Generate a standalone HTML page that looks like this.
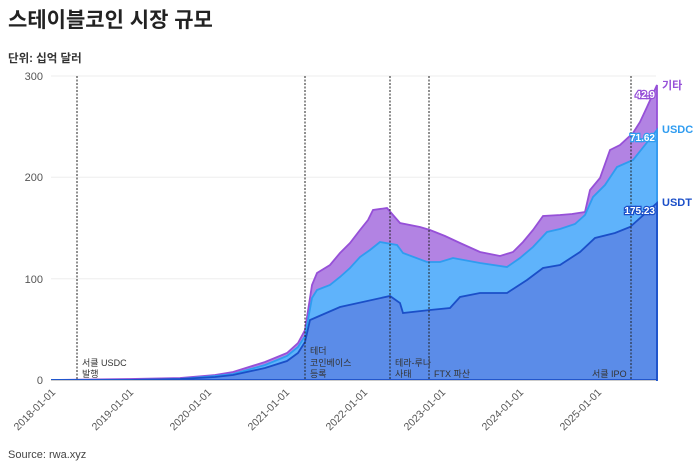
<!DOCTYPE html>
<html><head><meta charset="utf-8"><style>
body{margin:0;background:#fff;width:700px;height:468px;overflow:hidden;font-family:"Liberation Sans","Noto Sans CJK KR",sans-serif}
</style></head><body>
<svg width="700" height="468" xmlns="http://www.w3.org/2000/svg" font-family="Liberation Sans, Noto Sans CJK KR, sans-serif">
<text x="8" y="27" font-size="21" font-weight="bold" fill="#222">스테이블코인 시장 규모</text>
<text x="8" y="62" font-size="11.5" font-weight="bold" fill="#333">단위: 십억 달러</text>
<g stroke="#eee" stroke-width="1">
<line x1="51" y1="76" x2="656" y2="76"/><line x1="51" y1="177.3" x2="656" y2="177.3"/><line x1="51" y1="278.7" x2="656" y2="278.7"/>
</g>
<g font-size="11" fill="#555" text-anchor="end">
<text x="43" y="80">300</text><text x="43" y="181">200</text><text x="43" y="283">100</text><text x="43" y="384">0</text>
</g>
<path fill="#b283e3" stroke="#9650d8" stroke-width="1.8" d="M51,380 L129,379 L180,378 L215,375 L233,372 L265,362 L287,353 L298,343 L305,330 L312,285 L317,273 L330,265 L340,253 L350,243 L360,230 L368,220 L373,210 L387,208 L393,215 L400,223 L420,227 L430,230 L445,236 L460,243 L480,252 L500,256 L513,252 L523,242 L533,230 L543,216 L560,215 L572,214 L585,212 L590,190 L600,178 L610,150 L620,145 L633,133 L640,122 L647,107 L657,85 L657,380 Z"/>
<path fill="#5fb3fb" stroke="#2f9cf0" stroke-width="1.8" d="M51,380 L129,380 L180,379 L215,376 L233,374 L265,365 L287,356 L298,347 L305,336 L312,298 L317,290 L330,285 L340,277 L350,268 L360,257 L370,250 L380,242 L397,245 L403,253 L427,262 L440,262 L453,258 L480,263 L507,267 L520,258 L533,247 L547,232 L560,229 L575,224 L585,215 L593,197 L605,185 L617,167 L633,160 L645,145 L657,130 L657,380 Z"/>
<path fill="#5b8ce8" stroke="#1b4fc8" stroke-width="1.8" d="M51,380 L129,380 L180,379 L215,377 L233,375 L265,368 L287,361 L298,353 L305,342 L310,320 L317,317 L340,307 L390,296 L400,303 L403,313 L430,310 L450,308 L460,297 L480,293 L507,293 L527,280 L543,268 L560,265 L580,252 L595,238 L615,233 L630,227 L657,203 L657,380 Z"/>
<line x1="51" y1="380.5" x2="656" y2="380.5" stroke="#ccc"/>
<g stroke="#222" stroke-width="1" stroke-dasharray="2,1.5">
<line x1="77" y1="76" x2="77" y2="380"/><line x1="305" y1="76" x2="305" y2="380"/><line x1="390" y1="76" x2="390" y2="380"/><line x1="429" y1="76" x2="429" y2="380"/><line x1="631" y1="76" x2="631" y2="380"/>
</g>
<g font-size="9" fill="#333">
<text x="82" y="366">서클 USDC</text><text x="82" y="377">발행</text>
<text x="310" y="354">테더</text><text x="310" y="366">코인베이스</text><text x="310" y="377">등록</text>
<text x="395" y="366">테라-루나</text><text x="395" y="377">사태</text>
<text x="434" y="377">FTX 파산</text>
<text x="592" y="377">서클 IPO</text>
</g>
<g font-size="10" fill="#fff" font-weight="bold" text-anchor="end" stroke-width="2.5" paint-order="stroke">
<text x="655" y="98" stroke="#9650d8">42.9</text>
<text x="655" y="141" stroke="#2f9cf0">71.62</text>
<text x="655" y="214" stroke="#1b4fc8">175.23</text>
</g>
<g font-size="11" font-weight="bold">
<text x="662" y="89" fill="#9650d8">기타</text>
<text x="662" y="133" fill="#2f9cf0">USDC</text>
<text x="662" y="206" fill="#1b4fc8">USDT</text>
</g>
<g font-size="10.5" fill="#555" text-anchor="end">
<text transform="translate(56,393) rotate(-45)">2018-01-01</text>
<text transform="translate(134,393) rotate(-45)">2019-01-01</text>
<text transform="translate(212,393) rotate(-45)">2020-01-01</text>
<text transform="translate(290,393) rotate(-45)">2021-01-01</text>
<text transform="translate(368,393) rotate(-45)">2022-01-01</text>
<text transform="translate(446,393) rotate(-45)">2023-01-01</text>
<text transform="translate(524,393) rotate(-45)">2024-01-01</text>
<text transform="translate(602,393) rotate(-45)">2025-01-01</text>
</g>
<text x="8" y="458" font-size="11" fill="#444">Source: rwa.xyz</text>
</svg>
</body></html>
